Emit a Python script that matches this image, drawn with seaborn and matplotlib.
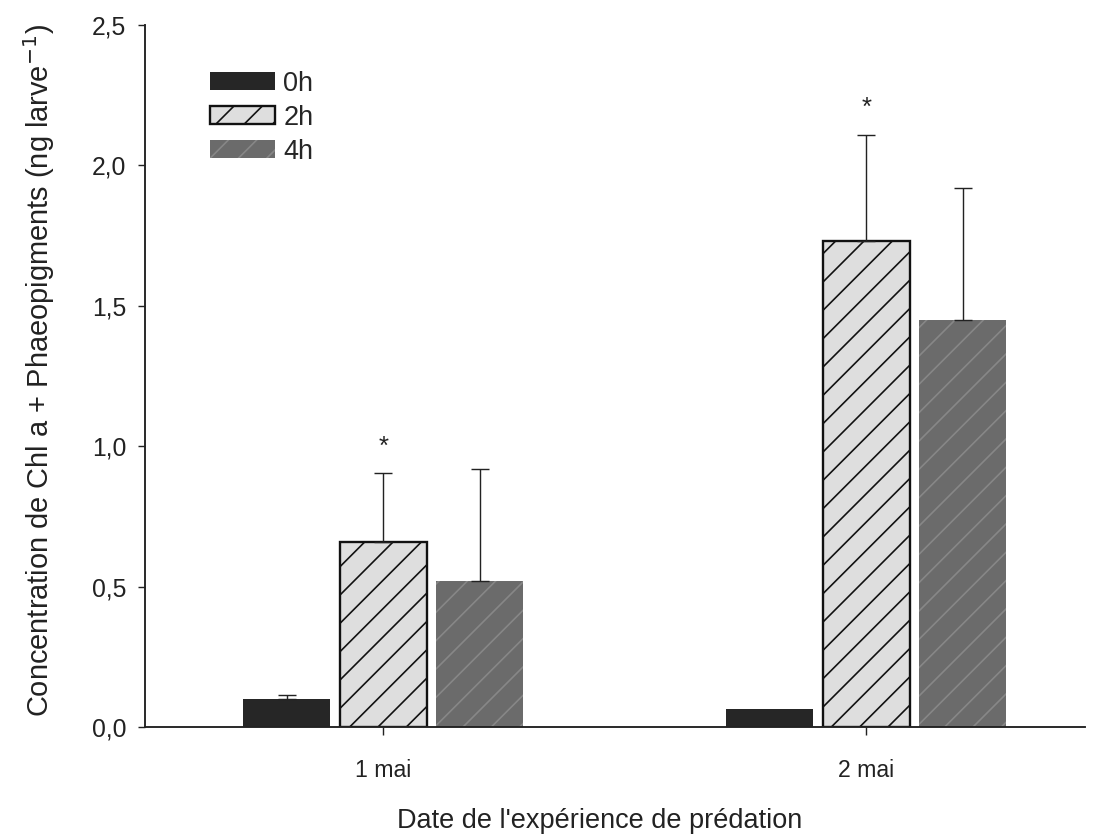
import pandas as pd
import matplotlib
matplotlib.use("Agg")
import matplotlib.pyplot as plt
import seaborn as sns

dates = ["1 mai", "2 mai"]
durees = ["0h", "2h", "4h"]
# moyennes, par durée (1 mai, 2 mai)
moy_0h = [0.10, 0.065]
moy_2h = [0.66, 1.73]
moy_4h = [0.52, 1.45]
# erreur (vers le haut seulement)
err_0h = [0.015, 0.0]
err_2h = [0.245, 0.38]
err_4h = [0.40, 0.47]
# barres significatives (*)
signif_2h = [True, True]

df = pd.DataFrame({
    "date": dates * 3,
    "duree": [d for d in durees for _ in dates],
    "conc": moy_0h + moy_2h + moy_4h,
})
errs = [err_0h, err_2h, err_4h]

sns.set_style("ticks")
plt.rcParams["font.family"] = ["Liberation Sans", "DejaVu Sans"]
plt.rcParams["hatch.linewidth"] = 0.7

DPI = 170
fig = plt.figure(figsize=(1098 / DPI, 839 / DPI), dpi=DPI)
ax = fig.add_axes([0.1321, 0.1335, 0.856, 0.8367])

colors = ["#262626", "#dedede", "#6b6b6b"]
sns.barplot(data=df, x="date", y="conc", hue="duree", hue_order=durees,
            order=dates, palette=colors, width=0.6, gap=0.1, errorbar=None,
            saturation=1, ax=ax, legend=False)

styles = [
    dict(hatch=None, edgecolor="#262626", linewidth=0),
    dict(hatch="//", edgecolor="#111111", linewidth=1.0),
    dict(hatch="//", edgecolor="#878787", linewidth=0),
]
for cont, st, err in zip(ax.containers, styles, errs):
    for p, e in zip(cont.patches, err):
        p.set_edgecolor(st["edgecolor"])
        p.set_linewidth(st["linewidth"])
        if st["hatch"]:
            p.set_hatch(st["hatch"])
        x = p.get_x() + p.get_width() / 2
        h = p.get_height()
        if e > 0:
            ax.errorbar(x, h, yerr=[[0], [e]], fmt="none", ecolor="#222222",
                        elinewidth=0.6, capsize=4, capthick=0.6, zorder=1)

# asterisques au-dessus des barres 2h
for p, e, s in zip(ax.containers[1].patches, err_2h, signif_2h):
    if s:
        ax.annotate("*", (p.get_x() + p.get_width() / 2, p.get_height() + e),
                    xytext=(0, 6), textcoords="offset points",
                    ha="center", va="bottom", fontsize=11, color="#222222")

ax.set_xlim(-0.493, 1.453)
ax.set_ylim(0, 2.5)
ax.set_yticks([0, 0.5, 1.0, 1.5, 2.0, 2.5])
ax.set_yticklabels(["0,0", "0,5", "1,0", "1,5", "2,0", "2,5"])
ax.tick_params(axis="y", length=3, width=0.6, pad=5, labelsize=10.5, colors="#222222")
ax.tick_params(axis="x", length=3.5, width=0.6, pad=10, labelsize=9.8, colors="#222222")

ax.set_xlabel("Date de l'expérience de prédation", fontsize=11.5, color="#222222")
ax.xaxis.set_label_coords(0.484, -0.116)
ax.set_ylabel("Concentration de Chl a + Phaeopigments (ng larve$^{-1}$)",
              fontsize=12.3, color="#222222")
ax.yaxis.set_label_coords(-0.094, 0.508)

sns.despine(ax=ax)
for sp in ["left", "bottom"]:
    ax.spines[sp].set_linewidth(0.8)
    ax.spines[sp].set_color("#222222")

ax.legend(ax.containers, durees, loc="upper left", bbox_to_anchor=(0.069, 0.935),
          frameon=False, borderpad=0, borderaxespad=0, handlelength=2.4,
          handleheight=0.65, handletextpad=0.3, labelspacing=0.3, fontsize=11.5)

fig.savefig("out.png", dpi=DPI)
